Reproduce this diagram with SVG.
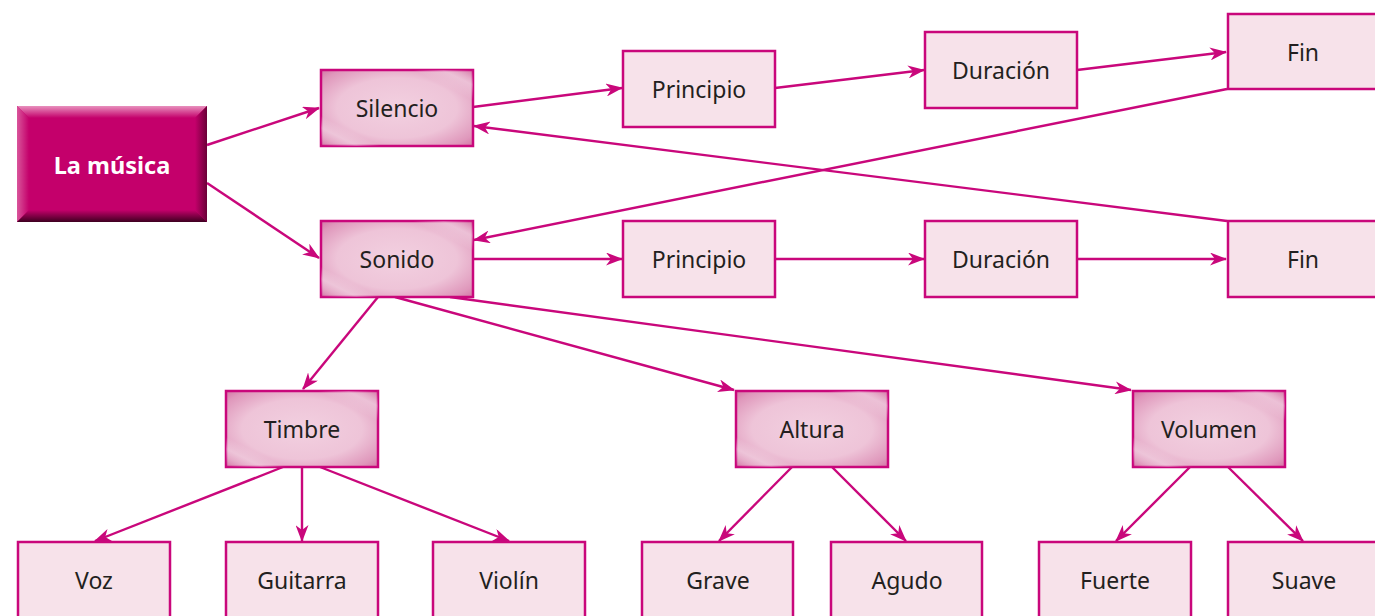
<svg xmlns="http://www.w3.org/2000/svg" width="1375" height="616" viewBox="0 0 1375 616">
<defs>
<style>
.box{fill:#f7e2ea;stroke:#c9077b;stroke-width:2.5}
.box3d{fill:url(#pinkGrad);stroke:#c9077b;stroke-width:2.5}
.hl{fill:url(#shine)}
.lbl{font-family:"Noto Sans","Open Sans",sans-serif;font-size:23px;fill:#231f20;text-anchor:middle}
.main{font-family:"Noto Sans","Open Sans",sans-serif;font-size:23.5px;font-weight:bold;fill:#ffffff;text-anchor:middle}
.conn line{stroke:#c9077b;stroke-width:2.4;fill:none;marker-end:url(#arr)}
</style>
<marker id="arr" viewBox="0 0 17 13" refX="16" refY="6.5" markerWidth="17" markerHeight="13" markerUnits="userSpaceOnUse" orient="auto">
<path d="M0,0 L17,6.5 L0,13 L5,6.5 Z" fill="#c9077b"/>
</marker>
<radialGradient id="pinkGrad" cx="0.5" cy="0.5" r="0.72">
<stop offset="0" stop-color="#f2d0e0"/>
<stop offset="0.55" stop-color="#eec4d8"/>
<stop offset="0.85" stop-color="#df97bb"/>
<stop offset="1" stop-color="#d270a2"/>
</radialGradient>
<linearGradient id="shine" x1="0" y1="1" x2="1" y2="0">
<stop offset="0" stop-color="#ffffff" stop-opacity="0"/>
<stop offset="0.12" stop-color="#ffffff" stop-opacity="0.35"/>
<stop offset="0.2" stop-color="#ffffff" stop-opacity="0"/>
<stop offset="0.8" stop-color="#ffffff" stop-opacity="0"/>
<stop offset="0.9" stop-color="#ffffff" stop-opacity="0.35"/>
<stop offset="1" stop-color="#ffffff" stop-opacity="0"/>
</linearGradient>
<linearGradient id="bevT" x1="0" y1="0" x2="0" y2="1">
<stop offset="0" stop-color="#e890bd"/>
<stop offset="1" stop-color="#c4006b"/>
</linearGradient>
<linearGradient id="bevB" x1="0" y1="0" x2="0" y2="1">
<stop offset="0" stop-color="#c4006b"/>
<stop offset="1" stop-color="#3e0020"/>
</linearGradient>
<linearGradient id="bevL" x1="0" y1="0" x2="1" y2="0">
<stop offset="0" stop-color="#d9559b"/>
<stop offset="1" stop-color="#c4006b"/>
</linearGradient>
<linearGradient id="bevR" x1="0" y1="0" x2="1" y2="0">
<stop offset="0" stop-color="#c4006b"/>
<stop offset="1" stop-color="#6a0037"/>
</linearGradient>
</defs>
<rect width="1375" height="616" fill="#ffffff"/>

<g id="connectors" class="conn">
<line x1="207" y1="145" x2="319" y2="108"/>
<line x1="207" y1="183" x2="319" y2="258"/>
<line x1="473" y1="107" x2="622" y2="88"/>
<line x1="775" y1="88" x2="924" y2="70"/>
<line x1="1077" y1="70" x2="1226" y2="52"/>
<line x1="1227" y1="89" x2="474" y2="240"/>
<line x1="1227" y1="221" x2="474" y2="126"/>
<line x1="473" y1="259" x2="622" y2="259"/>
<line x1="775" y1="259" x2="924" y2="259"/>
<line x1="1077" y1="259" x2="1226" y2="259"/>
<line x1="378" y1="297" x2="303" y2="389"/>
<line x1="395" y1="297" x2="734" y2="390"/>
<line x1="450" y1="297" x2="1131" y2="390"/>
<line x1="283" y1="467" x2="95" y2="541"/>
<line x1="302" y1="467" x2="302" y2="541"/>
<line x1="320" y1="467" x2="509" y2="541"/>
<line x1="792" y1="467" x2="719" y2="541"/>
<line x1="832" y1="467" x2="906" y2="541"/>
<line x1="1190" y1="467" x2="1116" y2="541"/>
<line x1="1228" y1="467" x2="1303" y2="541"/>
</g>

<g id="la-musica">
<rect x="17" y="106" width="190" height="116" fill="#c4006b"/>
<polygon points="17,106 207,106 195,118 29,118" fill="url(#bevT)"/>
<polygon points="17,106 29,118 29,210 17,222" fill="url(#bevL)"/>
<polygon points="207,106 207,222 195,210 195,118" fill="url(#bevR)"/>
<polygon points="17,222 207,222 195,210 29,210" fill="url(#bevB)"/>
<text class="main" x="112" y="174">La música</text>
</g>

<g id="silencio">
<rect class="box3d" x="321" y="70" width="152" height="76"/>
<rect class="hl" x="321" y="70" width="152" height="76"/>
<text class="lbl" x="397" y="117">Silencio</text>
</g>
<g id="principio1">
<rect class="box" x="623" y="51" width="152" height="76"/>
<text class="lbl" x="699" y="98">Principio</text>
</g>
<g id="duracion1">
<rect class="box" x="925" y="32" width="152" height="76"/>
<text class="lbl" x="1001" y="79">Duración</text>
</g>
<g id="fin1">
<rect class="box" x="1228" y="14" width="160" height="75"/>
<text class="lbl" x="1303" y="61">Fin</text>
</g>

<g id="sonido">
<rect class="box3d" x="321" y="221" width="152" height="76"/>
<rect class="hl" x="321" y="221" width="152" height="76"/>
<text class="lbl" x="397" y="268">Sonido</text>
</g>
<g id="principio2">
<rect class="box" x="623" y="221" width="152" height="76"/>
<text class="lbl" x="699" y="268">Principio</text>
</g>
<g id="duracion2">
<rect class="box" x="925" y="221" width="152" height="76"/>
<text class="lbl" x="1001" y="268">Duración</text>
</g>
<g id="fin2">
<rect class="box" x="1228" y="221" width="160" height="76"/>
<text class="lbl" x="1303" y="268">Fin</text>
</g>

<g id="timbre">
<rect class="box3d" x="226" y="391" width="152" height="76"/>
<rect class="hl" x="226" y="391" width="152" height="76"/>
<text class="lbl" x="302" y="438">Timbre</text>
</g>
<g id="altura">
<rect class="box3d" x="736" y="391" width="152" height="76"/>
<rect class="hl" x="736" y="391" width="152" height="76"/>
<text class="lbl" x="812" y="438">Altura</text>
</g>
<g id="volumen">
<rect class="box3d" x="1133" y="391" width="152" height="76"/>
<rect class="hl" x="1133" y="391" width="152" height="76"/>
<text class="lbl" x="1209" y="438">Volumen</text>
</g>

<g id="voz">
<rect class="box" x="18" y="542" width="152" height="80"/>
<text class="lbl" x="94" y="589">Voz</text>
</g>
<g id="guitarra">
<rect class="box" x="226" y="542" width="152" height="80"/>
<text class="lbl" x="302" y="589">Guitarra</text>
</g>
<g id="violin">
<rect class="box" x="433" y="542" width="152" height="80"/>
<text class="lbl" x="509" y="589">Violín</text>
</g>
<g id="grave">
<rect class="box" x="642" y="542" width="151" height="80"/>
<text class="lbl" x="718" y="589">Grave</text>
</g>
<g id="agudo">
<rect class="box" x="831" y="542" width="151" height="80"/>
<text class="lbl" x="907" y="589">Agudo</text>
</g>
<g id="fuerte">
<rect class="box" x="1039" y="542" width="152" height="80"/>
<text class="lbl" x="1115" y="589">Fuerte</text>
</g>
<g id="suave">
<rect class="box" x="1228" y="542" width="160" height="80"/>
<text class="lbl" x="1304" y="589">Suave</text>
</g>
</svg>
